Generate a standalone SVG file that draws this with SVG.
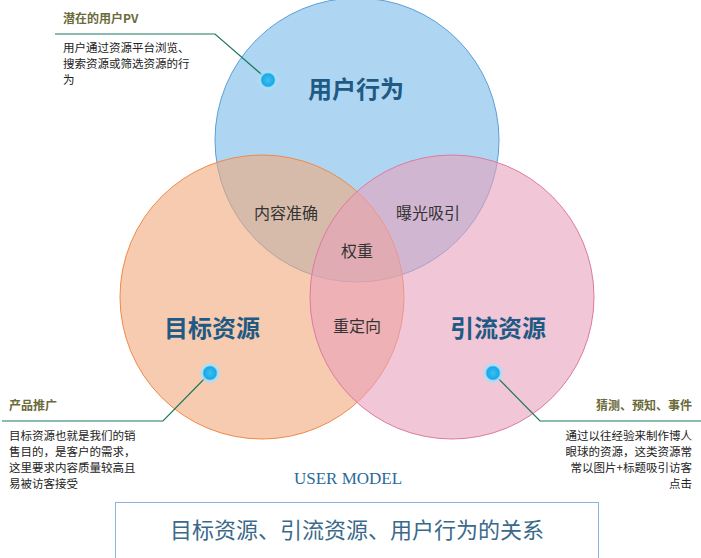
<svg xmlns="http://www.w3.org/2000/svg" width="701" height="558" viewBox="0 0 701 558">
<defs>
<radialGradient id="dot"><stop offset="0" stop-color="#3ec0f0"/><stop offset="0.55" stop-color="#1aa8e8"/><stop offset="0.7" stop-color="#a8e0f8"/><stop offset="1" stop-color="#a8e0f8" stop-opacity="0"/></radialGradient>
</defs>
<style>
.big{font-family:"Noto Sans CJK SC",sans-serif;font-weight:bold;font-size:24px;fill:#1f5a84}
.mid{font-family:"Noto Sans CJK SC",sans-serif;font-size:16px;fill:#333}
.h{font-family:"Noto Sans CJK SC",serif;font-weight:bold;font-size:12px;fill:#6b6a3a}
.t{font-family:"Noto Sans CJK SC",sans-serif;font-size:11.5px;fill:#222}
.ln{stroke:#1a7a60;stroke-width:1.2;fill:none}
</style>
<rect width="701" height="558" fill="#fff"/>
<g id="user"><circle cx="357" cy="140" r="142" fill="#8cc4ec" fill-opacity="0.7" stroke="#5a9fd8"/></g>
<g id="target"><circle cx="262" cy="297" r="142" fill="#f2a97a" fill-opacity="0.6" stroke="#ee8a4a"/></g>
<g id="traffic"><circle cx="452" cy="297" r="142" fill="#e8a0ba" fill-opacity="0.6" stroke="#dc7aa0"/></g>
<g class="big"><text x="356" y="98" text-anchor="middle">用户行为</text><text x="212" y="337" text-anchor="middle">目标资源</text><text x="498" y="337" text-anchor="middle">引流资源</text></g>
<g class="mid"><text x="286" y="219" text-anchor="middle">内容准确</text><text x="428" y="219" text-anchor="middle">曝光吸引</text><text x="357" y="257" text-anchor="middle">权重</text><text x="357" y="332" text-anchor="middle">重定向</text></g>
<g id="connectors">
<polyline class="ln" points="55,34 215,34 268,80"/>
<polyline class="ln" points="2,421 163,421 210,373"/>
<polyline class="ln" points="701,421 540,421 493,373"/>
</g>
<g id="dots"><circle cx="268" cy="80" r="11" fill="url(#dot)"/><circle cx="210" cy="373" r="11" fill="url(#dot)"/><circle cx="493" cy="373" r="11" fill="url(#dot)"/></g>
<g id="note-pv"><text class="h" x="63" y="23">潜在的用户PV</text><text class="t" x="63" y="52">用户通过资源平台浏览、</text><text class="t" x="63" y="68">搜索资源或筛选资源的行</text><text class="t" x="63" y="84">为</text></g>
<g id="note-promo"><text class="h" x="9" y="410">产品推广</text><text class="t" x="9" y="440">目标资源也就是我们的销</text><text class="t" x="9" y="456">售目的，是客户的需求，</text><text class="t" x="9" y="472">这里要求内容质量较高且</text><text class="t" x="9" y="488">易被访客接受</text></g>
<g id="note-guess" text-anchor="end"><text class="h" x="692" y="410">猜测、预知、事件</text><text class="t" x="692" y="440">通过以往经验来制作博人</text><text class="t" x="692" y="456">眼球的资源，这类资源常</text><text class="t" x="692" y="472">常以图片+标题吸引访客</text><text class="t" x="692" y="488">点击</text></g>
<text x="348" y="484" text-anchor="middle" font-family="Liberation Serif,serif" font-size="17" fill="#2a6a9a">USER MODEL</text>
<g id="title"><rect x="115.5" y="502.5" width="483" height="60" fill="#fff" stroke="#8ab4e0"/><text x="357" y="538" text-anchor="middle" font-family="Noto Sans CJK SC,serif" font-size="22" fill="#3a6a8a">目标资源、引流资源、用户行为的关系</text></g>
</svg>
